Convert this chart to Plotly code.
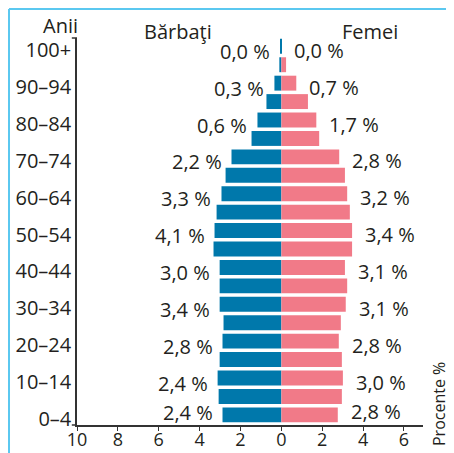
import plotly.graph_objects as go

# grupe de varsta, de jos in sus
ages = ["0–4", "5–9", "10–14", "15–19", "20–24", "25–29", "30–34", "35–39",
        "40–44", "45–49", "50–54", "55–59", "60–64", "65–69", "70–74",
        "75–79", "80–84", "85–89", "90–94", "95–99", "100+"]
# procente citite dupa lungimea barelor
male = [2.88, 3.07, 3.12, 3.02, 2.88, 2.83, 3.02, 3.02, 3.02, 3.32, 3.27,
        3.17, 2.93, 2.73, 2.44, 1.46, 1.17, 0.73, 0.34, 0.1, 0.06]
female = [2.76, 2.96, 3.01, 2.96, 2.81, 2.91, 3.15, 3.22, 3.11, 3.46, 3.46,
          3.35, 3.22, 3.11, 2.83, 1.85, 1.71, 1.30, 0.73, 0.23, 0.0]
# etichetele din grafic (pentru grupele afisate pe axa)
male_labels = ["2,4 %", "2,4 %", "2,8 %", "3,4 %", "3,0 %", "4,1 %",
               "3,3 %", "2,2 %", "0,6 %", "0,3 %", "0,0 %"]
female_labels = ["2,8 %", "3,0 %", "2,8 %", "3,1 %", "3,1 %", "3,4 %",
                 "3,2 %", "2,8 %", "1,7 %", "0,7 %", "0,0 %"]
x_ticks = [-10, -8, -6, -4, -2, 0, 2, 4, 6]

BLUE = "#0078AB"
PINK = "#F17A88"
TXT = "#231F20"
FONT = "Open Sans"

fig = go.Figure()
fig.add_trace(go.Bar(y=ages, x=[-v for v in male], orientation="h",
                     marker=dict(color=BLUE, line=dict(width=0)), name="Bărbaţi"))
fig.add_trace(go.Bar(y=ages, x=female, orientation="h",
                     marker=dict(color=PINK, line=dict(width=0)), name="Femei"))

shown = ages[::2]
for i, a in enumerate(shown):
    k = ages.index(a)
    dy = 2 if i == 0 else -5  # eticheta de jos sta putin mai sus
    fig.add_annotation(x=-male[k], y=a, text=male_labels[i], showarrow=False,
                       xanchor="right", xshift=-8, yshift=dy,
                       font=dict(family=FONT, size=20, color=TXT))
    fig.add_annotation(x=female[k], y=a, text=female_labels[i], showarrow=False,
                       xanchor="left", xshift=11, yshift=dy + 1,
                       font=dict(family=FONT, size=20, color=TXT))

# titluri
for txt, px, py in [("Anii", -0.049, 1.033), ("Bărbaţi", 0.292, 1.016),
                    ("Femei", 0.847, 1.016)]:
    fig.add_annotation(x=px, y=py, xref="paper", yref="paper", text=txt,
                       showarrow=False, xanchor="center", yanchor="middle",
                       font=dict(family=FONT, size=20, color=TXT))
fig.add_annotation(x=1.046, y=0.054, xref="paper", yref="paper",
                   text="Procente %", textangle=-90, showarrow=False,
                   xanchor="center", yanchor="middle",
                   font=dict(family=FONT, size=16, color=TXT))

# mici prelungiri ale axelor si chenarul albastru
for yy in (0, 1):
    fig.add_shape(type="line", xref="paper", yref="paper", x0=-0.015, x1=0,
                  y0=yy, y1=yy, line=dict(color="#333", width=1.5))
fig.add_shape(type="line", xref="paper", yref="paper", x0=-0.1965, x1=-0.1965,
              y0=1.075, y1=-0.1, line=dict(color="#5BC8F0", width=2))
fig.add_shape(type="line", xref="paper", yref="paper", x0=-0.1965, x1=1.2,
              y0=1.075, y1=1.075, line=dict(color="#5BC8F0", width=2))

# pagina are o margine de 8 px, deci figura e decalata
fig.update_layout(
    width=446, height=445,
    margin=dict(l=69, r=31, t=30, b=28),
    barmode="relative", bargap=0.19,
    showlegend=False,
    plot_bgcolor="white", paper_bgcolor="white",
    font=dict(family=FONT, color=TXT),
)
fig.update_xaxes(range=[-10, 6.93], tickvals=x_ticks,
                 ticktext=[str(abs(v)) for v in x_ticks],
                 ticks="outside", ticklen=4, tickcolor="#333",
                 showline=True, linecolor="#333", linewidth=1.5,
                 showgrid=False, zeroline=False, automargin=False,
                 ticklabelstandoff=-6,
                 tickfont=dict(family=FONT, size=18, color=TXT))
fig.update_yaxes(range=[-0.55, 20.45], tickvals=shown,
                 ticks="", showline=True, linecolor="#333", linewidth=1.5,
                 showgrid=False, zeroline=False, ticklabelshift=4,
                 automargin=False,
                 tickfont=dict(family=FONT, size=20, color=TXT))

fig.write_html("out.html")
